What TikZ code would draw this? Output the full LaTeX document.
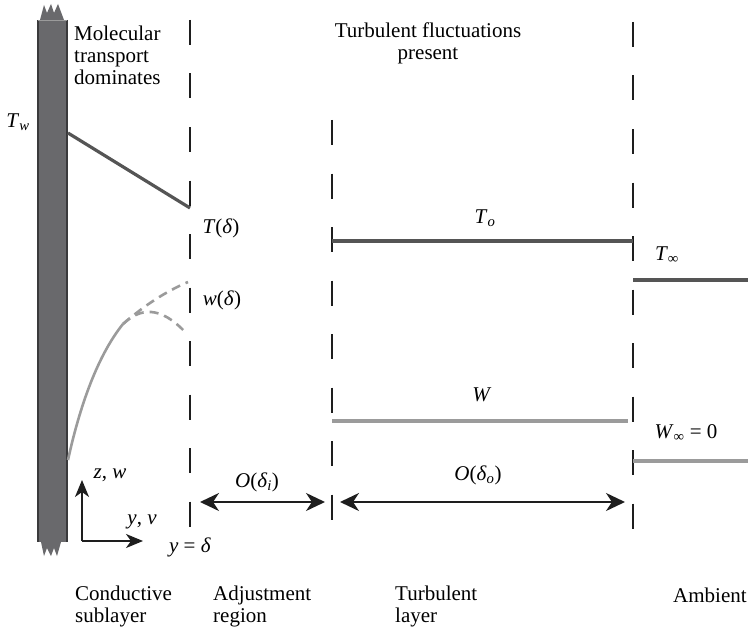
\documentclass[tikz,border=0pt]{standalone}
\usepackage{fontspec}
\setmainfont{Liberation Serif}
\usepackage{xcolor}
\usetikzlibrary{arrows.meta, positioning}
\definecolor{walldark}{RGB}{58, 58, 60}
\definecolor{wallfill}{RGB}{105, 105, 108}
\definecolor{tgray}{RGB}{85, 85, 85}
\definecolor{wgray}{RGB}{155, 155, 155}
\definecolor{inkblack}{RGB}{30, 30, 30}

\begin{document}
\begin{tikzpicture}[x=1bp, y=-1bp, font=\fontsize{21bp}{22bp}\selectfont]
    \tikzstyle{divider} = [draw=inkblack, line width=2.2bp,
                           dash pattern=on 25bp off 28.5bp]
    \tikzstyle{tline}   = [draw=tgray, line width=3.2bp]
    \tikzstyle{wline}   = [draw=wgray, line width=3.2bp]
    \tikzstyle{span}    = [{Stealth[length=19bp, width=18bp, inset=6bp]}-{Stealth[length=19bp, width=18bp, inset=6bp]},
                           line width=2.4bp, inkblack]
    \tikzstyle{axis}    = [-{Stealth[length=17bp, width=14bp, inset=5bp]}, line width=2bp, inkblack]
    \tikzstyle{lbl}     = [inner sep=0pt, text=black]
    \tikzstyle{region}  = [lbl, anchor=west, align=left]

    \useasboundingbox (0,0) rectangle (748,630);

    %% ── Wall (conducting surface) ──────────────────────────────────────────
    \fill[wallfill] (40,20) -- (44,5) -- (47,13) -- (51,4) -- (54,13)
                    -- (58,4) -- (61,12) -- (64,20) -- cycle;
    \fill[wallfill] (37,20) rectangle (68,542);
    \fill[wallfill] (41,542) -- (44,556) -- (47,548) -- (51,556) -- (54,548)
                    -- (57,556) -- (61,542) -- cycle;
    \draw[walldark, line width=2.8bp] (38,20) -- (38,542);
    \draw[walldark, line width=2.8bp] (67,20) -- (67,542);
    \draw[wgray, line width=0.8bp] (38,20) -- (67,20);

    %% ── Layer boundaries ───────────────────────────────────────────────────
    \coordinate (d1top) at (190,20);   \coordinate (d1bot) at (190,527);
    \coordinate (d2top) at (332,120);  \coordinate (d2bot) at (332,521);
    \coordinate (d3top) at (633,22);   \coordinate (d3bot) at (633,530);
    \draw[divider] (d1top) -- (d1bot);
    \draw[divider] (d2top) -- (d2bot);
    \draw[divider] (d3top) -- (d3bot);

    %% ── Temperature profile ────────────────────────────────────────────────
    \coordinate (tw)    at (68,133);
    \coordinate (tdel)  at (190,208);
    \coordinate (toL)   at (332,241);
    \coordinate (toR)   at (633,241);
    \coordinate (tinfL) at (633,280);
    \coordinate (tinfR) at (748,280);
    \draw[tline] (tw) -- (tdel);
    \draw[tline] (toL) -- (toR);
    \draw[tline] (tinfL) -- (tinfR);

    %% ── Velocity profile ───────────────────────────────────────────────────
    \coordinate (w0)   at (68,460);
    \coordinate (wmid) at (123,324);
    \coordinate (wup)  at (188,282);
    \coordinate (wdn)  at (186,333);
    \draw[wline, line width=2.6bp] (w0) .. controls (80,405) and (98,355) .. (wmid);
    \draw[wline, line width=2.6bp, dash pattern=on 9bp off 6bp]
      (wmid) .. controls (145,305) and (165,292) .. (wup);
    \draw[wline, line width=2.6bp, dash pattern=on 9bp off 6bp]
      (wmid) .. controls (140,308) and (160,305) .. (wdn);
    \coordinate (wL)   at (332,421);
    \coordinate (wR)   at (628,421);
    \coordinate (winfL) at (633,461);
    \coordinate (winfR) at (748,461);
    \draw[wline] (wL) -- (wR);
    \draw[wline] (winfL) -- (winfR);

    %% ── Thickness arrows ───────────────────────────────────────────────────
    \coordinate (si1) at (200,502);  \coordinate (si2) at (325,502);
    \coordinate (so1) at (340,502);  \coordinate (so2) at (625,502);
    \draw[span] (si1) -- (si2);
    \draw[span] (so1) -- (so2);

    %% ── Axes ───────────────────────────────────────────────────────────────
    \coordinate (orig) at (82,541);
    \coordinate (zend) at (82,480);
    \coordinate (yend) at (143,541);
    \draw[axis] (orig) -- (zend);
    \draw[axis] (orig) -- (yend);

    %% ── Labels ─────────────────────────────────────────────────────────────
    \node[region] (mol) at (74,55) {Molecular\\transport\\dominates};
    \node[lbl, align=center] (fluct) at (428,43) {Turbulent fluctuations\\present};
    \node[lbl] (twlbl)   at (18,122)  {\textit{T}\textsubscript{\textit{w}}};
    \node[lbl] (tdlbl)   at (221,228) {\textit{T}(\textit{δ})};
    \node[lbl] (wdlbl)   at (222,300) {\textit{w}(\textit{δ})};
    \node[lbl] (tolbl)   at (485,218) {\textit{T}\textsubscript{\textit{o}}};
    \node[lbl] (tinflbl) at (667,255) {\textit{T}\textsubscript{∞}};
    \node[lbl] (wlbl)    at (482,395) {\textit{W}};
    \node[lbl] (winflbl) at (686,433) {\textit{W}\textsubscript{∞} = 0};
    \node[lbl] (oilbl)   at (257,482) {\textit{O}(\textit{δ}\textsubscript{\textit{i}})};
    \node[lbl] (oolbl)   at (478,475) {\textit{O}(\textit{δ}\textsubscript{\textit{o}})};
    \node[lbl] (zwlbl)   at (110,475) {\textit{z}, \textit{w}};
    \node[lbl] (yvlbl)   at (142,522) {\textit{y}, \textit{v}};
    \node[lbl] (ydlbl)   at (190,547) {\textit{y} = \textit{δ}};

    %% ── Region names ───────────────────────────────────────────────────────
    \node[region] (cond)  at (75,606)  {Conductive\\sublayer};
    \node[region] (adj)   at (213,606) {Adjustment\\region};
    \node[region] (turb)  at (395,606) {Turbulent\\layer};
    \node[region] (amb)   at (673,595) {Ambient};
  \end{tikzpicture}
\end{document}
